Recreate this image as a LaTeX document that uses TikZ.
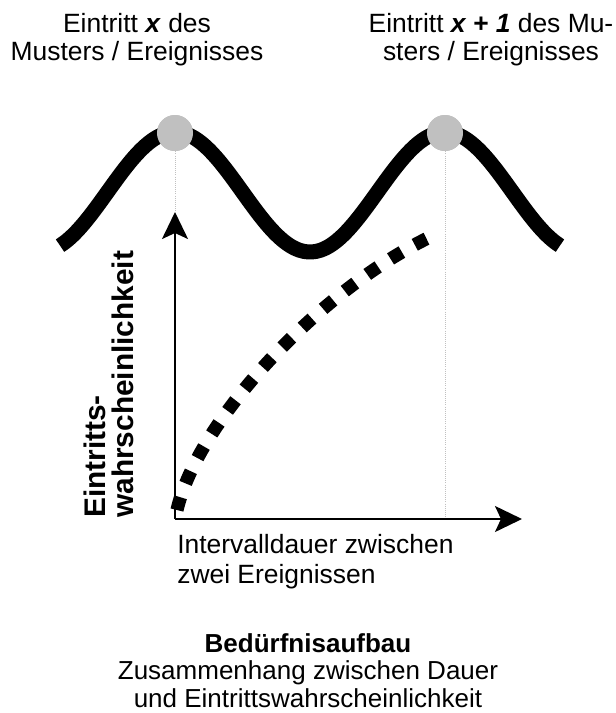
\documentclass[tikz,border=0pt]{standalone}
\usepackage{fontspec}
\setmainfont{Liberation Sans}
\usetikzlibrary{arrows.meta}
\definecolor{peakgray}{HTML}{C0C0C0}

\begin{document}
\begin{tikzpicture}[x=0.025cm, y=-0.025cm,
	txt/.style={inner sep=0, font=\fontsize{18.8}{21.3}\selectfont},
	axis/.style={line width=0.05cm, -{Stealth[length=0.675cm, width=0.65cm, inset=0.15cm]}},
	guide/.style={peakgray, line width=0.5pt, densely dotted},
	peak/.style={circle, fill=peakgray, inner sep=0, minimum size=0.9cm}]
	\useasboundingbox (0,0) rectangle (616,713);
	% Axes and guides:
	\coordinate (origin) at (175, 519);
	\coordinate (ytip) at (175, 212);
	\coordinate (xtip) at (522, 519);
	\node[peak] (peakx) at (175, 133) {};
	\node[peak] (peakxx) at (445, 133) {};
	\draw[guide] (peakx) -- (ytip);
	\draw[guide] (peakxx) -- (peakxx |- origin);
	\draw[line width=0.375cm] plot[domain=60:560, samples=120, smooth] (\x, {192-60*cos((\x-175)/270*360)});
	\node[peak] at (peakx) {};
	\node[peak] at (peakxx) {};
	\draw[axis] (origin) -- (ytip);
	\draw[axis] (origin) -- (xtip);
	\draw[line width=0.33cm, dash pattern=on 0.33cm off 0.37cm] (177, 510) .. controls (198, 420) and (320, 290) .. (430, 237);
	% Texts (base anchor = last line):
	\node[txt, font=\fontsize{18.8}{19.9}\selectfont, align=center, anchor=base] (eventx) at (137, 60) {Eintritt \textbf{\textit{x}} des\\Musters / Ereignisses};
	\node[txt, font=\fontsize{18.8}{19.9}\selectfont, align=center, anchor=base] (eventxx) at (491, 60) {Eintritt \textbf{\textit{x + 1}} des Mu-\\sters / Ereignisses};
	\node[txt, font=\fontsize{21.2}{20}\selectfont\bfseries, rotate=90, align=left, anchor=base west] (ylabel) at (134, 518) {Eintritts-\\wahrscheinlichkeit};
	\node[txt, align=left, anchor=base west] (xlabel) at (177, 583) {Intervalldauer zwischen\\zwei Ereignissen};
	\node[txt, font=\fontsize{18.5}{19.4}\selectfont, align=center, anchor=base] (caption) at (308, 707) {\textbf{Bedürfnisaufbau}\\Zusammenhang zwischen Dauer\\und Eintrittswahrscheinlichkeit};
\end{tikzpicture}
\end{document}
